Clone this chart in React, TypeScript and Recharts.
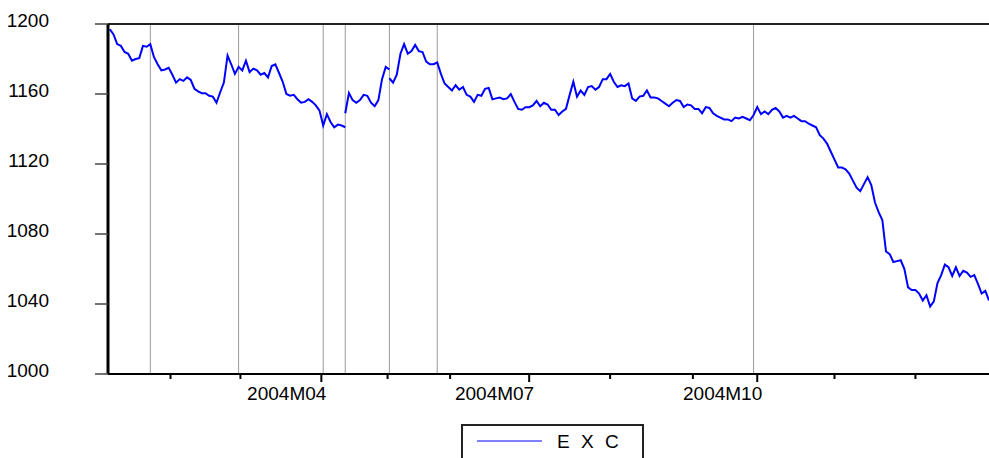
import React from 'react';
import { LineChart, Line, XAxis, YAxis, ReferenceLine, Legend } from 'recharts';

// daily EXC, split where the series breaks; each piece starts on the last obs of the previous one
const seg1 = [
  1197, 1194, 1188.5, 1187.5, 1184, 1183, 1179, 1180, 1180.5, 1187.5,
  1187, 1188.5, 1181, 1177, 1173.5, 1174, 1175, 1171, 1166.5, 1168.5,
  1167.5, 1169.5, 1168, 1163, 1161.5, 1160.5, 1160.5, 1159, 1158.5, 1155,
  1161, 1166.5, 1182, 1177, 1171.5, 1175.5, 1173.5, 1179, 1172.5, 1174.5,
  1173.5, 1171, 1172, 1169.5, 1176, 1177, 1172, 1167, 1160, 1159,
  1159.5, 1157, 1155, 1155.5, 1157, 1155.5, 1153.5, 1150.5, 1142, 1148.5,
  1144, 1141, 1142.5, 1142, 1141,
];
const seg2 = [1149, 1160.5, 1156.5, 1155, 1156.5, 1159.5, 1159, 1155, 1153, 1156.5, 1168.5, 1175.5, 1174];
const seg3 = [
  1169, 1166.5, 1171, 1183, 1188.5, 1183, 1184.5, 1188, 1184.5, 1184,
  1178.5, 1177, 1177, 1178, 1171.5, 1166, 1164, 1162, 1165, 1162.5,
  1164, 1159.5, 1158.5, 1155.5, 1159.5, 1159, 1163, 1163.5, 1157, 1157.5,
  1158, 1157, 1157.5, 1160, 1155.5, 1151.5, 1151, 1152.5, 1152.5, 1153.5,
  1156, 1153, 1155, 1154, 1151, 1151, 1148, 1150, 1151.5, 1159.5,
  1167, 1158.5, 1162, 1159.5, 1164, 1164.5, 1162.5, 1164, 1168.5, 1168.5,
  1171.5, 1167, 1164, 1165, 1164.5, 1166, 1157.5, 1156, 1158.5, 1159,
  1162, 1158, 1158, 1157.5, 1156, 1154.5, 1153, 1155, 1156.5, 1156,
  1152.5, 1154, 1153.5, 1151.5, 1151.5, 1149, 1152.5, 1152, 1149, 1147.5,
  1146.5, 1145.5, 1145.5, 1144.5, 1146.5, 1146, 1147, 1146, 1145, 1148,
  1152.5, 1148.5, 1150, 1148.5, 1151, 1152, 1150, 1146.5, 1147.5, 1146.5,
  1147.5, 1146, 1144.5, 1144.5, 1143, 1142, 1141, 1136.5, 1134.5, 1131.5,
  1127, 1122.5, 1118, 1118, 1117, 1114.5, 1110.5, 1106.5, 1104.5, 1108.5,
  1112.5, 1108, 1098, 1092.5, 1088, 1070, 1068.5, 1064, 1064.5, 1065,
  1060, 1049.5, 1048, 1048, 1046, 1042, 1045, 1038.5, 1041.5, 1052,
  1056.5, 1062.5, 1061, 1056, 1061, 1056, 1059, 1058, 1055.5, 1056.5,
  1051.5, 1046, 1047.5, 1042,
];

// month boundaries (in observations) and their labels
const monthTicks = [16.5, 35.5, 57.5, 75.5, 92.5, 114, 136, 158.5, 176, 197, 219];
const monthLabels = ['', '', '2004M04', '', '', '2004M07', '', '', '2004M10', '', ''];
const yTicks = [1000, 1040, 1080, 1120, 1160, 1200];
// observations marked with vertical lines
const eventObs = [11, 35, 58, 64, 76, 89, 175];

const FONT = 'Arial, "Liberation Sans", Helvetica, sans-serif';

const buildRows = () => {
  const rows: any[] = [];
  const segs = [seg1, seg2, seg3];
  const keys = ['a', 'b', 'c'];
  let start = 0;
  segs.forEach((seg, s) => {
    seg.forEach((v, j) => {
      const i = start + j;
      if (!rows[i]) rows[i] = { i };
      rows[i][keys[s]] = v;
    });
    start += seg.length - 1;
  });
  return rows;
};

const rows = buildRows();
const lastObs = rows.length - 1;

const XTick = (props: any) => {
  const { x, y, payload } = props;
  const label = monthLabels[monthTicks.indexOf(payload.value)] || '';
  const major = label !== '';
  return (
    <g>
      <line x1={x} x2={x} y1={y} y2={y + (major ? 8 : 5)} stroke="#000" strokeWidth={2} />
      {major && (
        <text x={x + 5} y={y + 26} textAnchor="end" fontSize={19} fontFamily={FONT} fill="#000">
          {label}
        </text>
      )}
    </g>
  );
};

const YTick = (props: any) => {
  const { x, y, payload } = props;
  return (
    <text x={x} y={y + 3} textAnchor="end" fontSize={19} fontFamily={FONT} fill="#000">
      {payload.value}
    </text>
  );
};

const LegendBox = () => (
  <svg width={183} height={34} style={{ display: 'block' }}>
    <path d="M1,34 V1 H182 V34" fill="none" stroke="#222" strokeWidth={2} />
    <line x1={16} x2={81} y1={17} y2={17} stroke="#0000ff" strokeWidth={1.2} />
    <text x={96} y={23.5} fontSize={19} fontFamily={FONT} letterSpacing={3} fill="#000">
      E X C
    </text>
  </svg>
);

const App: React.FC = () => {
  return (
    <div style={{ position: 'absolute', left: 0, top: 0, background: '#fff' }}>
      <LineChart width={989} height={458} data={rows} margin={{ top: 24, right: 0, bottom: 0, left: 0 }}>
        <XAxis
          dataKey="i"
          type="number"
          domain={[-0.5, lastObs]}
          ticks={monthTicks}
          interval={0}
          height={84}
          tickSize={0}
          tickMargin={0}
          tickLine={false}
          axisLine={{ stroke: '#000', strokeWidth: 2 }}
          tick={<XTick />}
        />
        <YAxis
          domain={[1000, 1200]}
          ticks={yTicks}
          width={108}
          tickSize={13}
          tickMargin={46}
          tickLine={{ stroke: '#444', strokeWidth: 1.5 }}
          axisLine={{ stroke: '#000', strokeWidth: 3 }}
          tick={<YTick />}
        />
        {eventObs.map((o) => (
          <ReferenceLine key={o} x={o} stroke="#9a9a9a" strokeWidth={1} />
        ))}
        <ReferenceLine y={1200} stroke="#222" strokeWidth={2} />
        <Line dataKey="a" stroke="#0000ff" strokeWidth={2} dot={false} isAnimationActive={false} />
        <Line dataKey="b" stroke="#0000ff" strokeWidth={2} dot={false} isAnimationActive={false} />
        <Line dataKey="c" stroke="#0000ff" strokeWidth={2} dot={false} isAnimationActive={false} />
        <Legend
          verticalAlign="middle"
          align="center"
          content={<LegendBox />}
          wrapperStyle={{ left: 461, top: 424, width: 183, height: 34 }}
        />
      </LineChart>
    </div>
  );
};

export default App;
